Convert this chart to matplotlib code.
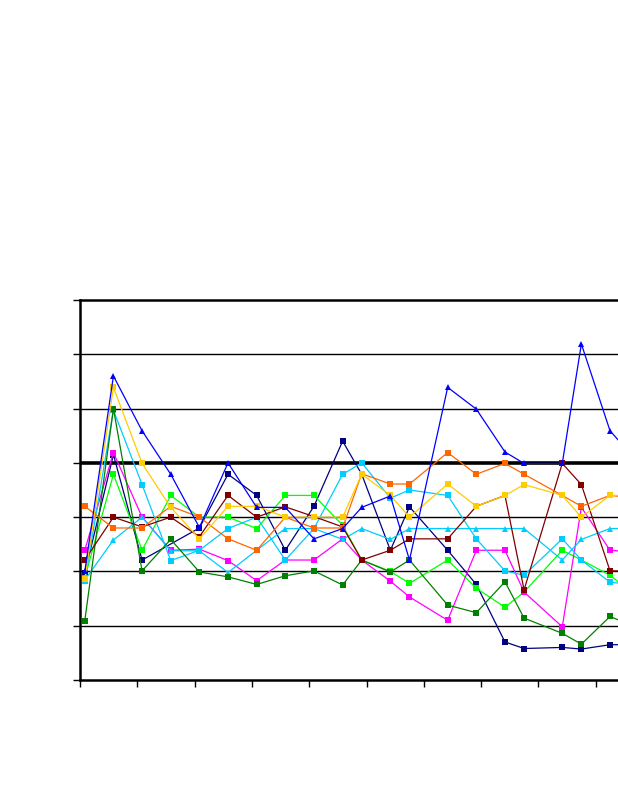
import numpy as np
import matplotlib
matplotlib.use('Agg')
import matplotlib.pyplot as plt

# ------------------------------------------------------------------
# Data (y in gridline units 0..7)
# ------------------------------------------------------------------
days = [0, 3, 6, 9, 12, 15, 18, 21, 24, 27, 29, 32, 34, 38, 41, 44, 46, 50, 52, 55, 58]

blue_tri = [2.00, 5.60, 4.59, 3.79, 2.81, 4.00, 3.18, 3.18, 2.60, 2.79, 3.18,
            3.39, 2.21, 5.39, 4.99, 4.20, 3.99, 3.99, 6.19, 4.59, 4.00]
navy = [1.97, 4.15, 2.21, np.nan, 2.80, 3.79, 3.40, 2.39, 3.20, 4.40, 3.79,
        2.39, 3.19, 2.39, 1.76, 0.70, 0.58, 0.60, 0.57, 0.65, 0.65]
orange = [3.20, 2.80, 2.80, 3.20, 3.00, 2.60, 2.39, 3.00, 2.80, 2.80, 3.80,
          3.61, 3.61, 4.19, 3.79, 3.99, 3.79, 3.40, 3.20, 3.40, 3.35]
gold = [1.86, 5.39, 3.99, 3.18, 2.60, 3.20, 3.20, 3.00, 3.00, 3.00, 3.79,
        3.40, 3.00, 3.61, 3.20, 3.40, 3.60, 3.40, 3.00, 3.40, 3.40]
darkred = [2.21, 3.00, 2.82, 3.00, 2.64, 3.40, 3.00, 3.19, 3.01, 2.82, 2.21,
           2.39, 2.60, 2.60, 3.20, 3.40, 1.66, 3.99, 3.60, 2.01, 2.01]
lime = [1.88, 3.79, 2.39, 3.40, 3.00, 3.00, 2.79, 3.40, 3.40, 2.85, 2.21,
        2.00, 1.78, 2.21, 1.69, 1.34, 1.62, 2.39, 2.21, 1.93, 1.50]
darkgreen = [1.09, 5.00, 2.01, 2.59, 1.99, 1.90, 1.76, 1.92, 2.01, 1.75, 2.21,
             1.99, 2.21, 1.38, 1.24, 1.81, 1.14, 0.86, 0.66, 1.17, 0.95]
cyan_sq = [1.82, 4.97, 3.60, 2.20, 2.39, 2.79, 3.00, 2.21, 2.79, 3.79, 4.00,
           3.35, 3.50, 3.40, 2.60, 2.01, 1.93, 2.60, 2.21, 1.80, 1.75]
cyan_tri = [1.84, 2.58, 3.00, 2.38, 2.38, 1.98, 2.39, 2.79, 2.79, 2.59, 2.79,
            2.59, 2.79, 2.79, 2.79, 2.79, 2.79, 2.21, 2.59, 2.79, 2.79]
magenta = [2.39, 4.19, 3.00, 2.39, 2.41, 2.20, 1.83, 2.21, 2.21, 2.60, 2.21,
           1.82, 1.53, 1.10, 2.39, 2.39, 1.62, 0.98, 3.18, 2.39, 2.35]

# drawing order bottom -> top: (values, colour, marker)
series = [
    (navy, '#000080', 's'),
    (lime, '#00FF00', 's'),
    (magenta, '#FF00FF', 's'),
    (cyan_sq, '#00CCFF', 's'),
    (cyan_tri, '#00CCFF', '^'),
    (darkgreen, '#008000', 's'),
    (darkred, '#800000', 's'),
    (orange, '#FF6600', 's'),
    (gold, '#FFCC00', 's'),
    (blue_tri, '#0000FF', '^'),
]

# ------------------------------------------------------------------
# Plot
# ------------------------------------------------------------------
fig = plt.figure(figsize=(6.18, 8.0), dpi=100)
# plot area runs off the right edge of the picture, as in the reference
ax = fig.add_axes([80 / 618, 120 / 800, 573 / 618, 380 / 800])

x = np.array(days, dtype=float)
for vals, col, mk in series:
    y = np.array(vals, dtype=float)
    ok = ~np.isnan(y)
    ax.plot(x[ok], y[ok], color=col, linewidth=0.9, marker=mk,
            markersize=5, markeredgewidth=0, zorder=3)

for g in [1, 2, 3, 5, 6]:
    ax.axhline(g, color='black', linewidth=1.0, zorder=1)
ax.axhline(4, color='black', linewidth=2.6, zorder=1)

ax.set_xlim(-0.5, 59.5)
ax.set_ylim(0, 7)
ax.set_xticks(np.arange(-0.5, 60, 6))
ax.set_yticks(np.arange(0, 8, 1))
ax.tick_params(direction='out', length=5, width=1.0, color='black',
               labelbottom=False, labelleft=False)
for side in ['left', 'bottom', 'top']:
    ax.spines[side].set_linewidth(1.8)
ax.spines['right'].set_visible(False)

plt.savefig('out.png', dpi=100)
